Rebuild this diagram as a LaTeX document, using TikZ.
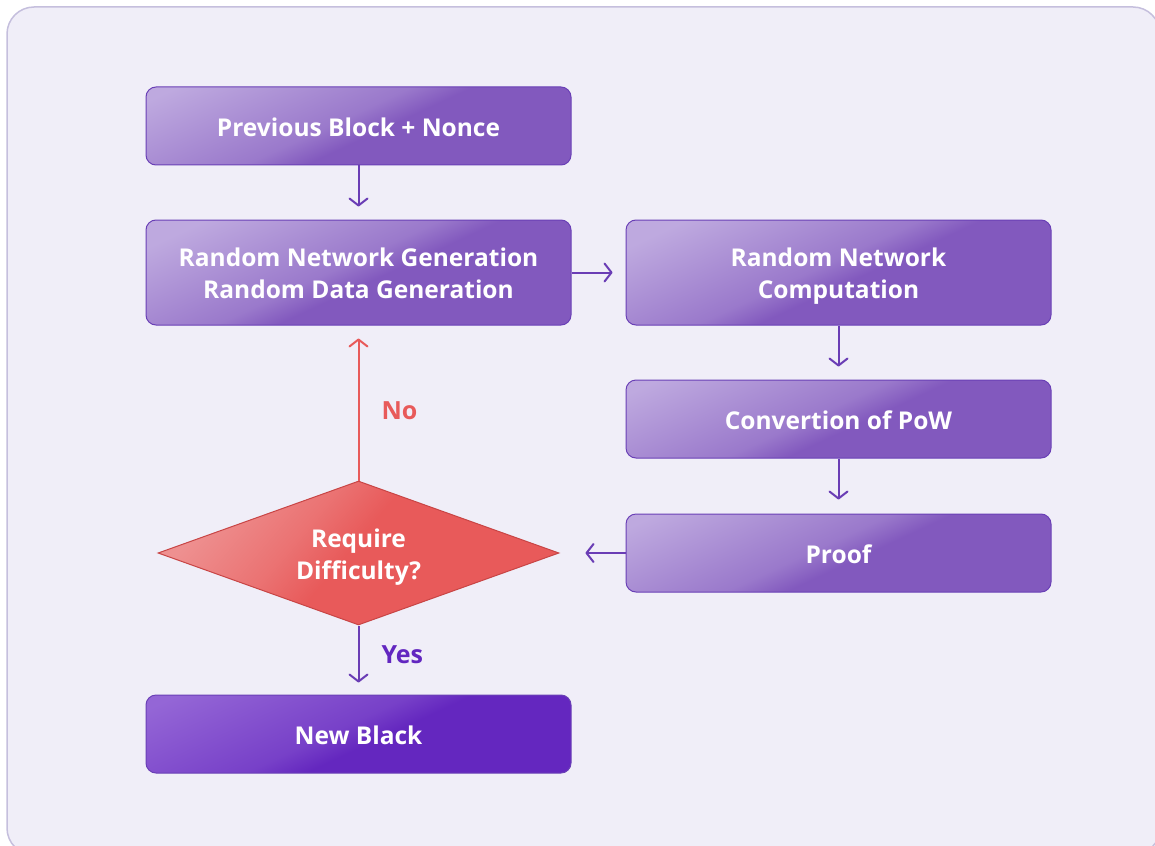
\documentclass[tikz,border=0pt]{standalone}
\usepackage{fontspec}
\setmainfont{Open Sans}
\usetikzlibrary{arrows.meta,shapes.geometric}
\definecolor{panelfill}{HTML}{F0EEF8}
\definecolor{paneldraw}{HTML}{C5BFDD}
\definecolor{pbase}{HTML}{8259BE}
\definecolor{plight}{HTML}{BEA9DF}
\definecolor{pdraw}{HTML}{6A40B6}
\definecolor{dbase}{HTML}{6427BF}
\definecolor{dlight}{HTML}{9466D6}
\definecolor{rbase}{HTML}{E85A5A}
\definecolor{rlight}{HTML}{EE9090}
\definecolor{rdraw}{HTML}{C84545}
\definecolor{arrp}{HTML}{6A3DB5}
\definecolor{yescol}{HTML}{6226C0}
\newcommand{\boxtxt}[1]{\smash{\raisebox{-10pt}{\begin{tabular}{@{}c@{}}#1\end{tabular}}}}
\pgfdeclarehorizontalshading{boxshade}{100bp}{color(0bp)=(plight); color(37bp)=(plight); color(48.5bp)=(plight!40!pbase); color(51.5bp)=(pbase); color(100bp)=(pbase)}
\pgfdeclarehorizontalshading{darkshade}{100bp}{color(0bp)=(dlight); color(37bp)=(dlight); color(48.5bp)=(dlight!40!dbase); color(51.5bp)=(dbase); color(100bp)=(dbase)}
\pgfdeclarehorizontalshading{redshade}{100bp}{color(0bp)=(rlight); color(33bp)=(rlight); color(43bp)=(rlight!45!rbase); color(49bp)=(rbase); color(100bp)=(rbase)}
\tikzset{
  sq/.style={path picture={\shade[shading=#1, shading angle=-65]
      (path picture bounding box.center) ++(-215,-215) rectangle ++(430,430);}},
  box/.style={rectangle, rounded corners=10pt, minimum width=425pt, minimum height=78pt,
    draw=pdraw, line width=1pt, sq=boxshade,
    text=white, font=\fontsize{24.5}{32}\selectfont\bfseries, inner sep=0pt},
  darkbox/.style={box, sq=darkshade},
  decision/.style={diamond, aspect=2.78, minimum width=401pt, minimum height=144pt, inner sep=0pt,
    draw=rdraw, line width=1pt,
    path picture={\shade[shading=redshade, shading angle=-40]
      (path picture bounding box.center) ++(-205,-205) rectangle ++(410,410);},
    text=white, font=\fontsize{24.5}{32}\selectfont\bfseries},
  arr/.style={draw=arrp, line width=2pt, -{Straight Barb[length=7pt,width=18pt,line cap=round,line join=round]}},
  redarr/.style={arr, draw=rbase},
  lbl/.style={font=\fontsize{25}{28}\selectfont\bfseries, inner sep=0pt}
}
\begin{document}
\begin{tikzpicture}[x=1pt,y=-1pt]
\useasboundingbox (0,0) rectangle (1155,845);
\draw[fill=panelfill, draw=paneldraw, line width=1.5pt, rounded corners=27pt] (7,7) rectangle (1160,855);
\node[box] (b1) at (358.5,126) {\boxtxt{Previous Block + Nonce}};
\node[box, minimum height=105pt] (b2) at (358.5,272.5) {\boxtxt{Random Network Generation\\Random Data Generation}};
\node[box, minimum height=105pt] (b3) at (838.5,272.5) {\boxtxt{Random Network\\Computation}};
\node[box] (b4) at (838.5,419) {\boxtxt{Convertion of PoW}};
\node[box] (b5) at (838.5,553) {\boxtxt{Proof}};
\node[decision] (d) at (358.5,553) {\boxtxt{Require\\Difficulty?}};
\node[darkbox] (b6) at (358.5,734) {\boxtxt{New Black}};
\draw[arr, shorten >=13pt] (b1.south) -- (b2.north);
\draw[arr, shorten >=13pt] (b2.east) -- (b3.west);
\draw[arr, shorten >=13pt] (b3.south) -- (b4.north);
\draw[arr, shorten >=14pt] (b4.south) -- (b5.north);
\draw[arr, shorten >=26pt] (b5.west) -- (d.east);
\draw[redarr, shorten >=13pt] (d.north) -- (b2.south) node[pos=0.45, right=22pt, lbl, text=rbase] (no) {No};
\draw[arr, shorten >=12pt] (d.south) -- (b6.north) node[pos=0.42, right=22pt, lbl, text=yescol] (yes) {Yes};
\end{tikzpicture}
\end{document}
